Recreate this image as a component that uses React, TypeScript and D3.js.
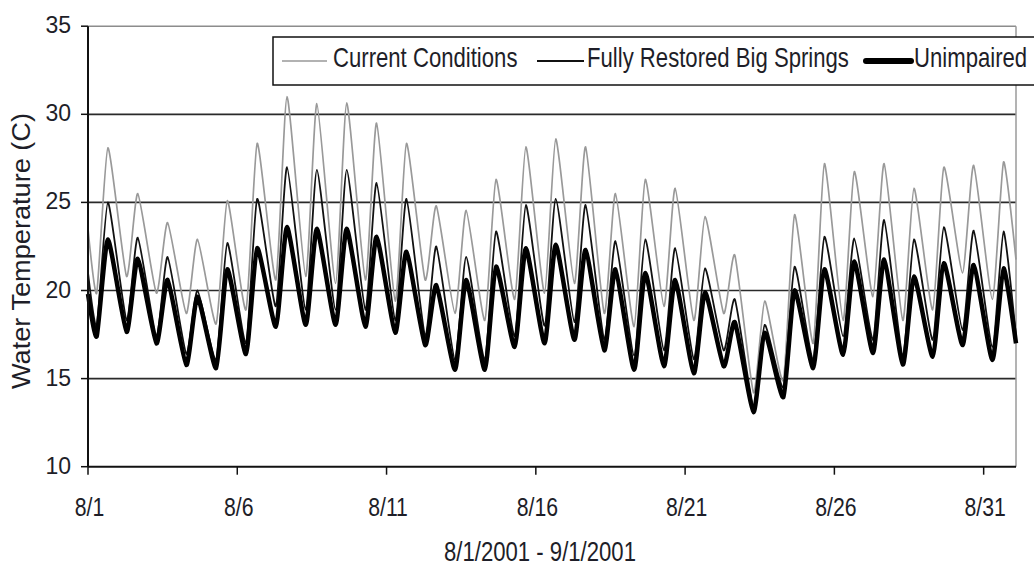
import React from "react";
import * as d3 from "d3";

// daily minimum (early morning) and maximum (late afternoon), 8/1 .. 8/31
const currentTroughs = [19.85, 20.8, 19.85, 18.7, 18.1, 18.9, 20.6, 20.8, 20.4, 20.6, 19.4, 20.6, 18.7, 18.3, 19.5, 19.85, 20.4, 18.7, 17.95, 19.1, 18.3, 18.7, 14.2, 14.9, 17.0, 18.3, 19.65, 18.3, 18.9, 21.0, 19.5];
const currentPeaks = [28.1, 25.5, 23.85, 22.9, 25.1, 28.35, 31.0, 30.6, 30.65, 29.5, 28.35, 24.8, 24.55, 26.3, 28.15, 28.6, 28.15, 25.5, 26.3, 25.8, 24.2, 22.0, 19.4, 24.3, 27.2, 26.75, 27.2, 25.8, 27.0, 27.1, 27.3];

const restoredTroughs = [17.95, 18.3, 17.4, 16.4, 16.05, 17.0, 19.1, 18.9, 18.9, 18.9, 18.3, 17.4, 16.05, 16.05, 17.4, 18.0, 18.2, 17.2, 16.3, 16.6, 16.1, 16.6, 13.4, 14.5, 16.05, 17.4, 17.2, 16.25, 17.2, 17.75, 16.8];
const restoredPeaks = [25.0, 23.0, 21.9, 20.0, 22.7, 25.2, 27.0, 26.85, 26.85, 26.1, 25.2, 22.5, 21.9, 23.35, 24.85, 25.2, 24.85, 22.8, 22.9, 22.4, 21.25, 19.5, 18.05, 21.35, 23.05, 22.95, 24.0, 22.9, 23.6, 23.4, 23.35];

const unimpairedTroughs = [17.4, 17.65, 17.0, 15.77, 15.6, 16.4, 17.95, 18.05, 18.05, 17.95, 17.6, 16.9, 15.5, 15.5, 16.8, 17.0, 17.2, 16.6, 15.5, 15.7, 15.3, 15.7, 13.1, 13.95, 15.6, 16.35, 16.45, 15.8, 16.25, 16.9, 16.05];
const unimpairedPeaks = [22.9, 21.8, 20.6, 19.65, 21.2, 22.4, 23.6, 23.5, 23.5, 23.05, 22.2, 20.3, 20.6, 21.35, 22.4, 22.6, 22.3, 21.2, 21.0, 20.6, 19.9, 18.2, 17.6, 20.0, 21.2, 21.65, 21.75, 20.8, 21.55, 21.45, 21.25];

// first and last readings of the record
const startValues = [23.5, 21.0, 19.8];
const endValues = [21.75, 17.4, 17.0];

const seriesNames = ["Current Conditions", "Fully Restored Big Springs", "Unimpaired"];
const xTickLabels = ["8/1", "8/6", "8/11", "8/16", "8/21", "8/26", "8/31"];
const yTicks = [10, 15, 20, 25, 30, 35];

const TROUGH_HOUR = 7;
const PEAK_HOUR = 16;

const START = new Date(2001, 7, 1);
const END = new Date(2001, 8, 1, 2);

const SANS = "'Liberation Sans', Arial, sans-serif";
const TEXT = "#1e1e28";

interface Pt {
  t: Date;
  v: number;
}

const buildSeries = (i: number, troughs: number[], peaks: number[]): Pt[] => {
  const pts: Pt[] = [{ t: START, v: startValues[i] }];
  troughs.forEach((tv, d) => {
    pts.push({ t: new Date(2001, 7, 1 + d, TROUGH_HOUR), v: tv });
    pts.push({ t: new Date(2001, 7, 1 + d, PEAK_HOUR), v: peaks[d] });
  });
  pts.push({ t: END, v: endValues[i] });
  return pts;
};

// condensed text: regular sans squeezed horizontally (no narrow face installed)
const Narrow = ({
  x,
  y,
  size,
  sx = 0.82,
  anchor = "start",
  children,
}: {
  x: number;
  y: number;
  size: number;
  sx?: number;
  anchor?: string;
  children: React.ReactNode;
}) => (
  <text
    transform={`translate(${x},${y}) scale(${sx},1)`}
    textAnchor={anchor}
    fontFamily={SANS}
    fontSize={size}
    fill={TEXT}
  >
    {children}
  </text>
);

export default function App() {
  const left = 88;
  const right = 1016;
  const top = 26.2;
  const bottom = 466.7;

  const x = d3.scaleTime().domain([START, END]).range([left, right]);
  const y = d3.scaleLinear().domain([10, 35]).range([bottom, top]);

  const line = d3
    .line<Pt>()
    .x((d) => x(d.t))
    .y((d) => y(d.v))
    .curve(d3.curveCardinal.tension(0.45));

  const series = [
    { data: buildSeries(0, currentTroughs, currentPeaks), color: "#999", width: 1.7 },
    { data: buildSeries(1, restoredTroughs, restoredPeaks), color: "#111", width: 1.8 },
    { data: buildSeries(2, unimpairedTroughs, unimpairedPeaks), color: "#000", width: 4.5 },
  ];

  const xTicks = xTickLabels.map((lab) => {
    const [m, dd] = lab.split("/").map(Number);
    return { lab, t: new Date(2001, m - 1, dd) };
  });

  // legend layout (sample line start/end, text start)
  const legend = [
    { x1: 282, x2: 327, tx: 333, color: "#999", width: 1.7 },
    { x1: 537, x2: 584, tx: 587, color: "#111", width: 1.8 },
    { x1: 866, x2: 911, tx: 914, color: "#000", width: 6 },
  ];

  return (
    <svg
      width={1034}
      height={567}
      style={{ position: "absolute", left: 0, top: 0, background: "#fff" }}
    >
      <rect width={1034} height={567} fill="#fff" />

      {/* gridlines */}
      {yTicks
        .filter((v) => v > 10 && v < 35)
        .map((v) => (
          <line key={v} x1={left} x2={right} y1={y(v)} y2={y(v)} stroke="#2a2a2a" strokeWidth={1.7} />
        ))}
      {/* top + right border */}
      <line x1={left} x2={right} y1={y(35)} y2={y(35)} stroke="#8c8c8c" strokeWidth={1.5} />
      <line x1={right} x2={right} y1={y(35)} y2={y(10)} stroke="#9a9a9a" strokeWidth={1.5} />

      {/* series */}
      {series.map((s, i) => (
        <path
          key={i}
          d={line(s.data) || ""}
          fill="none"
          stroke={s.color}
          strokeWidth={s.width}
          strokeLinejoin="round"
        />
      ))}

      {/* axes */}
      <line x1={left} x2={left} y1={y(35)} y2={y(10)} stroke="#111" strokeWidth={2} />
      <line x1={left} x2={right} y1={y(10)} y2={y(10)} stroke="#111" strokeWidth={2} />
      {yTicks.map((v) => (
        <g key={v}>
          <line x1={left - 7} x2={left} y1={y(v)} y2={y(v)} stroke="#111" strokeWidth={1.5} />
          <text x={71} y={y(v) + 7} textAnchor="end" fontFamily={SANS} fontSize={23} fill={TEXT}>
            {v}
          </text>
        </g>
      ))}
      {xTicks.map((tk) => (
        <g key={tk.lab}>
          <line x1={x(tk.t)} x2={x(tk.t)} y1={y(10)} y2={y(10) + 8} stroke="#111" strokeWidth={1.5} />
          <Narrow x={x(tk.t) + 1.5} y={516} size={25} sx={0.85} anchor="middle">
            {tk.lab}
          </Narrow>
        </g>
      ))}

      {/* axis titles */}
      <text
        transform="translate(30,251) rotate(-90)"
        textAnchor="middle"
        fontFamily={SANS}
        fontSize={26}
        fill={TEXT}
        textLength={276}
        lengthAdjust="spacingAndGlyphs"
      >
        Water Temperature (C)
      </text>
      <Narrow x={540} y={561} size={27} anchor="middle">
        8/1/2001 - 9/1/2001
      </Narrow>

      {/* legend */}
      <rect x={273} y={37} width={800} height={48} fill="#fff" stroke="#111" strokeWidth={1.5} />
      {legend.map((l, i) => (
        <g key={i}>
          <line
            x1={l.x1}
            x2={l.x2}
            y1={61}
            y2={61}
            stroke={l.color}
            strokeWidth={l.width}
            strokeLinecap={i === 2 ? "round" : "butt"}
          />
          <Narrow x={l.tx} y={67} size={27}>
            {seriesNames[i]}
          </Narrow>
        </g>
      ))}
    </svg>
  );
}
